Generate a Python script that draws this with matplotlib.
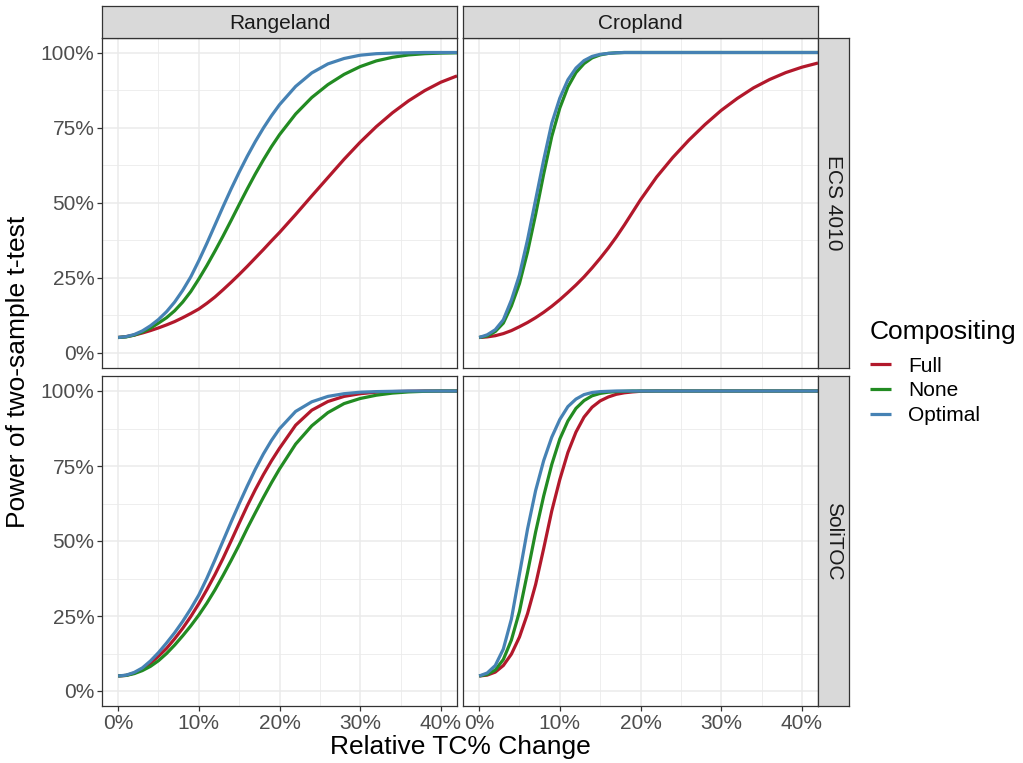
import numpy as np
import matplotlib
matplotlib.use('Agg')
import matplotlib.pyplot as plt

plt.rcParams['font.family'] = ['Liberation Sans', 'DejaVu Sans']

# relative change in TC% (x) and power in % (y)
change = [0, 1, 2, 3, 4, 5, 6, 7, 8, 9, 10, 11, 12, 13, 14, 15, 16, 17, 18, 19, 20,
          22, 24, 26, 28, 30, 32, 34, 36, 38, 40, 42]

range_ecs_full = [5, 5.3, 5.8, 6.5, 7.3, 8.2, 9.2, 10.3, 11.6, 13.0, 14.5, 16.4, 18.5, 20.9, 23.4, 26.0,
                  28.7, 31.5, 34.3, 37.2, 40.0, 46.0, 52.2, 58.3, 64.4, 70.1, 75.3, 79.9, 83.9, 87.3, 90.1, 92.2]
range_ecs_none = [5, 5.2, 5.8, 6.8, 8.1, 9.8, 11.6, 13.9, 16.8, 20.3, 24.5, 29.0, 33.8, 38.8, 44.0, 49.3,
                  54.5, 59.5, 64.2, 68.6, 72.6, 79.5, 85.0, 89.3, 92.7, 95.3, 97.2, 98.4, 99.2, 99.6, 99.8, 99.9]
range_ecs_opt = [5, 5.3, 6.0, 7.2, 8.9, 11.0, 13.6, 16.8, 20.7, 25.2, 30.6, 36.4, 42.5, 48.6, 54.5, 60.1,
                 65.4, 70.3, 74.8, 78.9, 82.6, 88.7, 93.2, 96.2, 98.0, 99.1, 99.6, 99.8, 99.9, 100, 100, 100]

crop_ecs_full = [5, 5.2, 5.6, 6.3, 7.3, 8.6, 10.0, 11.6, 13.4, 15.4, 17.6, 20.0, 22.5, 25.2, 28.2, 31.4,
                 34.8, 38.5, 42.5, 46.7, 50.9, 58.5, 65.0, 70.8, 76.0, 80.7, 84.7, 88.2, 91.0, 93.3, 95.1, 96.5]
crop_ecs_none = [5, 5.5, 7.0, 9.8, 15.5, 23.0, 33.5, 46.0, 59.5, 72.0, 81.5, 88.5, 93.3, 96.3, 98.2, 99.2,
                 99.7, 99.9, 100, 100, 100, 100, 100, 100, 100, 100, 100, 100, 100, 100, 100, 100]
crop_ecs_opt = [5, 5.9, 7.6, 10.9, 17.5, 25.9, 37.6, 50.9, 64.2, 76.4, 84.8, 90.9, 94.8, 97.3, 98.7, 99.4,
                99.7, 99.9, 100, 100, 100, 100, 100, 100, 100, 100, 100, 100, 100, 100, 100, 100]

range_toc_full = [5, 5.2, 6.0, 7.3, 9.2, 11.6, 14.2, 17.4, 20.9, 24.8, 29.1, 33.8, 38.8, 44.2, 50.0, 55.9,
                  61.7, 67.1, 72.1, 76.7, 80.9, 88.6, 93.6, 96.5, 98.2, 99.1, 99.6, 99.8, 99.9, 100, 100, 100]
range_toc_none = [5, 5.2, 5.8, 6.8, 8.2, 10.1, 12.5, 15.3, 18.4, 21.7, 25.3, 29.3, 33.7, 38.5, 43.5, 48.7,
                  54.2, 59.4, 64.5, 69.4, 74.0, 82.3, 88.4, 92.8, 95.8, 97.5, 98.6, 99.3, 99.7, 99.9, 100, 100]
range_toc_opt = [5, 5.3, 6.2, 7.7, 10.0, 12.8, 16.0, 19.4, 23.2, 27.4, 32.0, 37.6, 43.7, 50.0, 56.3, 62.4,
                 68.3, 73.9, 79.0, 83.5, 87.4, 93.2, 96.4, 98.2, 99.1, 99.6, 99.8, 99.9, 100, 100, 100, 100]

crop_toc_full = [5, 5.3, 6.3, 8.5, 12.3, 18.0, 25.8, 35.5, 47.5, 60.0, 70.5, 79.5, 86.3, 91.3, 94.6, 96.7,
                 98.0, 98.9, 99.4, 99.7, 99.9, 100, 100, 100, 100, 100, 100, 100, 100, 100, 100, 100]
crop_toc_none = [5, 5.5, 7.0, 10.5, 17.0, 26.5, 39.5, 53.0, 65.0, 75.5, 84.0, 90.0, 94.2, 96.8, 98.4, 99.2,
                 99.6, 99.8, 99.9, 100, 100, 100, 100, 100, 100, 100, 100, 100, 100, 100, 100, 100]
crop_toc_opt = [5, 6.0, 8.5, 14.0, 24.0, 39.0, 54.0, 66.8, 76.8, 84.6, 90.5, 94.8, 97.3, 98.8, 99.5, 99.8,
                99.9, 100, 100, 100, 100, 100, 100, 100, 100, 100, 100, 100, 100, 100, 100, 100]

columns = ['Rangeland', 'Cropland']
rows = ['ECS 4010', 'SoliTOC']
groups = ['Full', 'None', 'Optimal']
colors = ['#B2182B', '#228B22', '#4682B4']

panels = {
    ('ECS 4010', 'Rangeland'): [range_ecs_full, range_ecs_none, range_ecs_opt],
    ('ECS 4010', 'Cropland'): [crop_ecs_full, crop_ecs_none, crop_ecs_opt],
    ('SoliTOC', 'Rangeland'): [range_toc_full, range_toc_none, range_toc_opt],
    ('SoliTOC', 'Cropland'): [crop_toc_full, crop_toc_none, crop_toc_opt],
}

W, H = 1023, 763
fig = plt.figure(figsize=(W / 100, H / 100), dpi=100)

def px(x0, y0, x1, y1):
    return [x0 / W, 1 - y1 / H, (x1 - x0) / W, (y1 - y0) / H]

col_x = [(102, 457), (463, 818)]
row_y = [(37.5, 367.5), (376, 706)]
grey20 = '#333333'

handles = []
for i, r in enumerate(rows):
    for j, c in enumerate(columns):
        x0, x1 = col_x[j]
        y0, y1 = row_y[i]
        ax = fig.add_axes(px(x0, y0, x1, y1))
        for series, col, name in zip(panels[(r, c)], colors, groups):
            ln, = ax.plot(change, series, color=col, lw=2.3, label=name, solid_capstyle='butt')
            if i == 0 and j == 0:
                handles.append(ln)
        ax.set_xlim(-2, 42)
        ax.set_ylim(-5, 105)
        ax.set_xticks([0, 10, 20, 30, 40])
        ax.set_xticks([5, 15, 25, 35], minor=True)
        ax.set_yticks([0, 25, 50, 75, 100])
        ax.set_yticks([12.5, 37.5, 62.5, 87.5], minor=True)
        ax.grid(which='major', color='#EBEBEB', lw=1.1)
        ax.grid(which='minor', color='#EBEBEB', lw=0.6)
        ax.set_axisbelow(True)
        for s in ax.spines.values():
            s.set_color(grey20)
            s.set_linewidth(0.9)
        ax.tick_params(which='minor', length=0)
        ax.tick_params(which='major', length=3.5, width=0.9, color=grey20,
                       labelsize=15, labelcolor='#4D4D4D', pad=2)
        if i == 1:
            ax.set_xticklabels([f'{v}%' for v in [0, 10, 20, 30, 40]])
        else:
            ax.tick_params(axis='x', labelbottom=False, length=0)
        if j == 0:
            ax.set_yticklabels([f'{v}%' for v in [0, 25, 50, 75, 100]])
        else:
            ax.tick_params(axis='y', labelleft=False, length=0)

# strips
for j, c in enumerate(columns):
    x0, x1 = col_x[j]
    sa = fig.add_axes(px(x0, 6, x1, 37.5))
    sa.set_facecolor('#D9D9D9')
    sa.set_xticks([]); sa.set_yticks([])
    for s in sa.spines.values():
        s.set_color(grey20); s.set_linewidth(0.9)
    sa.text(0.5, 0.45, c, ha='center', va='center', fontsize=15, color='#1A1A1A', transform=sa.transAxes)
for i, r in enumerate(rows):
    y0, y1 = row_y[i]
    sa = fig.add_axes(px(818, y0, 849.5, y1))
    sa.set_facecolor('#D9D9D9')
    sa.set_xticks([]); sa.set_yticks([])
    for s in sa.spines.values():
        s.set_color(grey20); s.set_linewidth(0.9)
    sa.text(0.5, 0.5, r, ha='center', va='center', rotation=-90, fontsize=15,
            color='#1A1A1A', transform=sa.transAxes)

fig.text(460 / W, 1 - 747 / H, 'Relative TC% Change', ha='center', va='center', fontsize=19)
fig.text(18 / W, 1 - 372 / H, 'Power of two-sample t-test', ha='center', va='center',
         rotation=90, fontsize=19)

# legend: title placed on its own, entries below
fig.text(870 / W, 1 - 332 / H, 'Compositing', ha='left', va='center', fontsize=19)
leg = fig.legend(handles=handles, labels=groups, loc='center left',
                 bbox_to_anchor=(862 / W, 1 - 391 / H), frameon=False, fontsize=15,
                 handlelength=1.0, handletextpad=0.8, labelspacing=0.28,
                 borderaxespad=0)

fig.savefig('out.png', dpi=100)
